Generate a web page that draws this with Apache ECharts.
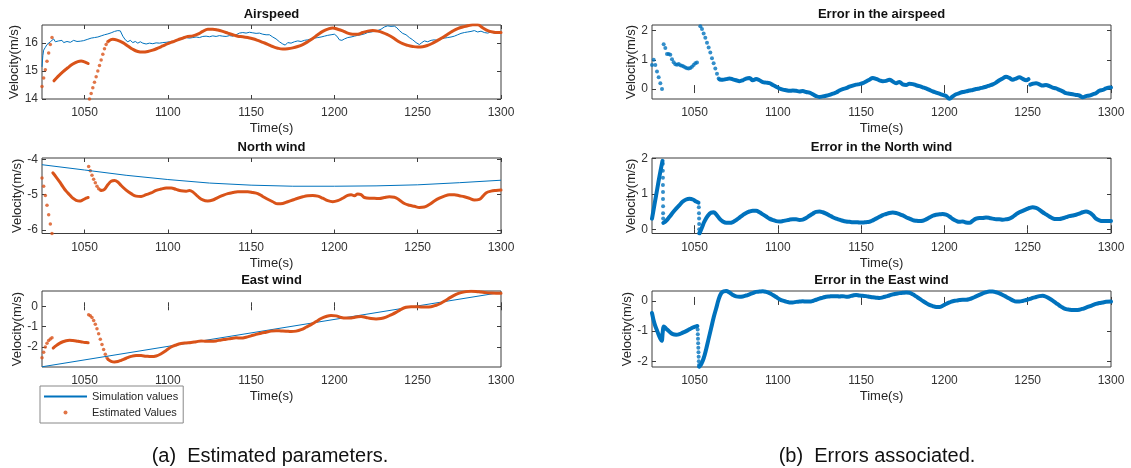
<!DOCTYPE html>
<html>
<head>
<meta charset="utf-8">
<script src="https://cdn.jsdelivr.net/npm/echarts@6/dist/echarts.min.js"></script>
<style>
  html, body { margin: 0; padding: 0; background: #fff; }
  #chart { width: 1131px; height: 468px; }
</style>
</head>
<body>
<div id="chart"></div>
<script>
// tick labels
const timeTicks = [1050, 1100, 1150, 1200, 1250, 1300]
const airTicks = [14, 15, 16]
const northTicks = [-6, -5, -4]
const eastTicks = [-2, -1, 0]
const airErrTicks = [0, 1, 2]
const northErrTicks = [0, 1, 2]
const eastErrTicks = [-2, -1, 0]

// Airspeed: simulation values and estimated values
const airSim = [[1024.5,15.15],[1025,15.55],[1025.5,15.75],[1026.5,15.85],[1027.5,15.95],[1028.5,16.0],[1029.5,16.05],[1030.5,16.12],[1031.5,16.15],[1032.5,16.05],[1033.5,16.0],[1034.5,16.08],[1035.5,16.15],[1036.5,16.1],[1037.5,16.02],[1038.5,16.0],[1039.5,16.06],[1040.5,16.08],[1041.5,16.03],[1042.5,16.05],[1043.5,16.1],[1044.5,16.08],[1045.5,16.06],[1046.5,16.04],[1047.5,16.07],[1048.5,16.1],[1049.5,16.09],[1050.5,16.12],[1052,16.14],[1054,16.18],[1056,16.2],[1058,16.22],[1060,16.26],[1062,16.3],[1064,16.33],[1066,16.37],[1068,16.42],[1070,16.45],[1071.5,16.44],[1073,16.25],[1074.5,16.12],[1076,16.05],[1077.5,16.1],[1079,16.02],[1080.5,16.06],[1082,16.0],[1083.5,16.05],[1085,16.0],[1087,15.97],[1089,16.0],[1091,15.98],[1093,16.01],[1095,16.0],[1097,16.02],[1099,16.03],[1101,16.05],[1103,16.04],[1105,16.08],[1107,16.12],[1109,16.15],[1111,16.2],[1113,16.18],[1115,16.2],[1117,16.22],[1119,16.2],[1121,16.24],[1123,16.25],[1125,16.23],[1127,16.26],[1129,16.24],[1131,16.27],[1133,16.25],[1135,16.24],[1137,16.27],[1139,16.25],[1141,16.3],[1143,16.36],[1145,16.38],[1147,16.36],[1149,16.39],[1151,16.37],[1153,16.35],[1155,16.36],[1157,16.32],[1159,16.3],[1161,16.3],[1163,16.22],[1165,16.15],[1167,16.05],[1169,15.97],[1170.5,15.93],[1172,16.02],[1174,16.0],[1176,16.05],[1178,16.08],[1180,16.06],[1182,16.1],[1184,16.12],[1186,16.15],[1188,16.18],[1190,16.2],[1192,16.22],[1194,16.25],[1196,16.28],[1198,16.3],[1200,16.32],[1201.5,16.25],[1203,16.12],[1204.5,16.1],[1206,16.15],[1208,16.2],[1210,16.22],[1212,16.25],[1214,16.28],[1216,16.3],[1218,16.33],[1220,16.38],[1222,16.4],[1224,16.42],[1226,16.45],[1228,16.5],[1230,16.58],[1232,16.62],[1234,16.6],[1236,16.61],[1237.5,16.55],[1239,16.45],[1241,16.35],[1243,16.3],[1245,16.2],[1247,16.12],[1249,16.02],[1251,15.95],[1252.5,16.02],[1254,16.08],[1256,16.05],[1258,16.1],[1260,16.12],[1262,16.1],[1264,16.15],[1266,16.18],[1268,16.2],[1270,16.22],[1272,16.25],[1274,16.3],[1276,16.35],[1278,16.38],[1280,16.4],[1282,16.42],[1284,16.45],[1286,16.4],[1288,16.43],[1290,16.38],[1292,16.36],[1294,16.4],[1296,16.36],[1298,16.35],[1300,16.36]]
const airEstDots = [[1024.5,14.45],[1025.5,14.75],[1026.5,15.05],[1027.5,15.35],[1028.5,15.65],[1029.5,15.95],[1030.5,16.2],
  [1053,14.0],[1054,14.2],[1055,14.4],[1056,14.6],[1057,14.8],[1058,15.0],[1059,15.2],[1060,15.4],[1061,15.6],[1062,15.8],[1063,15.95],[1064,16.05]]
const airEstSeg1 = [[1031.7,14.65],[1034,14.8],[1037,14.97],[1040,15.12],[1043,15.25],[1046,15.34],[1048,15.36],[1050,15.33],[1052.2,15.27]]
const airEstSeg2 = [[1064.5,16.08],[1067,16.14],[1070,16.1],[1073,16.02],[1076,15.9],[1079,15.78],[1082,15.7],[1085,15.68],[1088,15.7],[1091,15.75],[1094,15.82],[1097,15.9],[1100,15.98],[1103,16.05],[1106,16.12],[1109,16.18],[1112,16.24],[1115,16.26],[1118,16.32],[1121,16.42],[1124,16.5],[1127,16.5],[1130,16.47],[1133,16.42],[1136,16.36],[1139,16.3],[1142,16.25],[1145,16.23],[1148,16.2],[1151,16.16],[1154,16.1],[1157,16.03],[1160,15.96],[1163,15.88],[1166,15.82],[1169,15.79],[1172,15.8],[1175,15.83],[1178,15.88],[1181,15.95],[1184,16.05],[1187,16.17],[1190,16.3],[1193,16.42],[1196,16.5],[1199,16.54],[1202,16.5],[1205,16.44],[1208,16.36],[1211,16.32],[1214,16.32],[1217,16.38],[1220,16.43],[1223,16.45],[1226,16.43],[1229,16.38],[1232,16.3],[1235,16.2],[1238,16.08],[1241,15.98],[1244,15.92],[1247,15.88],[1250,15.86],[1253,15.87],[1256,15.92],[1259,16.0],[1262,16.1],[1265,16.2],[1268,16.32],[1271,16.43],[1274,16.52],[1277,16.58],[1280,16.62],[1283,16.66],[1286,16.66],[1289,16.55],[1292,16.45],[1295,16.4],[1298,16.38],[1300,16.38]]

// North wind
const northSim = [[1024.5,-4.15],[1050,-4.3],[1075,-4.45],[1100,-4.57],[1125,-4.67],[1150,-4.73],[1175,-4.76],[1200,-4.76],[1225,-4.75],[1250,-4.72],[1275,-4.66],[1300,-4.59]]
const northEstDots = [[1024.5,-4.53],[1025.5,-4.76],[1026.5,-5.02],[1027.5,-5.3],[1028.5,-5.57],[1029.5,-5.83],[1030.5,-6.1],
  [1052.5,-4.2],[1053.5,-4.32],[1054.5,-4.45],[1055.5,-4.56],[1056.5,-4.66],[1057.5,-4.76],[1058.5,-4.83],[1059.5,-4.87]]
const northEstSeg1 = [[1031,-4.38],[1033,-4.5],[1035,-4.63],[1037,-4.77],[1039,-4.9],[1041,-5.0],[1043,-5.1],[1045,-5.16],[1047,-5.18],[1049,-5.15],[1051,-5.1],[1052.2,-5.08]]
const northEstSeg2 = [[1060,-4.88],[1062,-4.85],[1064,-4.72],[1066,-4.62],[1068,-4.6],[1070,-4.64],[1072,-4.74],[1075,-4.87],[1078,-4.97],[1081,-5.04],[1084,-5.05],[1087,-5.0],[1090,-4.95],[1093,-4.88],[1096,-4.84],[1099,-4.81],[1102,-4.81],[1105,-4.85],[1108,-4.89],[1111,-4.9],[1113,-4.88],[1115,-4.92],[1118,-5.05],[1121,-5.15],[1124,-5.18],[1127,-5.15],[1130,-5.08],[1133,-5.02],[1136,-4.97],[1139,-4.94],[1142,-4.92],[1145,-4.92],[1148,-4.92],[1151,-4.94],[1154,-4.97],[1157,-5.05],[1160,-5.13],[1163,-5.2],[1166,-5.26],[1169,-5.25],[1172,-5.2],[1175,-5.15],[1178,-5.1],[1181,-5.06],[1184,-5.03],[1187,-5.02],[1190,-5.04],[1193,-5.1],[1196,-5.17],[1199,-5.2],[1202,-5.17],[1205,-5.1],[1208,-5.02],[1210,-5.0],[1212,-5.03],[1214,-4.98],[1216,-5.0],[1218,-5.08],[1221,-5.1],[1224,-5.1],[1227,-5.11],[1230,-5.08],[1233,-5.06],[1236,-5.07],[1239,-5.15],[1242,-5.25],[1245,-5.3],[1248,-5.33],[1251,-5.36],[1254,-5.35],[1257,-5.28],[1260,-5.18],[1263,-5.1],[1266,-5.04],[1269,-5.0],[1272,-5.0],[1275,-5.03],[1278,-5.06],[1281,-5.1],[1284,-5.15],[1287,-5.13],[1289,-5.05],[1291,-4.95],[1294,-4.9],[1297,-4.88],[1300,-4.87]]

// East wind
const eastSim = [[1024.5,-2.97],[1300,0.68]]
const eastEstDots = [[1024.5,-2.52],[1025.5,-2.25],[1026.5,-2.0],[1027.5,-1.82],[1028.5,-1.68],[1029.5,-1.6],[1030.5,-1.54],
  [1052.5,-0.42],[1053.5,-0.46],[1054.5,-0.55],[1055.5,-0.7],[1056.5,-0.88],[1057.5,-1.1],[1058.5,-1.35],[1059.5,-1.62],[1060.5,-1.88],[1061.5,-2.12],[1062.5,-2.35],[1063.5,-2.52]]
const eastEstSeg1 = [[1031.2,-2.05],[1033,-1.93],[1035,-1.82],[1037,-1.74],[1039,-1.69],[1041,-1.67],[1043,-1.68],[1045,-1.7],[1047,-1.73],[1049,-1.76],[1051,-1.78],[1052.2,-1.79]]
const eastEstSeg2 = [[1064,-2.6],[1066,-2.7],[1068,-2.73],[1070,-2.71],[1072,-2.65],[1075,-2.55],[1078,-2.46],[1081,-2.41],[1084,-2.42],[1087,-2.45],[1090,-2.47],[1093,-2.44],[1096,-2.33],[1099,-2.17],[1102,-2.0],[1105,-1.9],[1108,-1.83],[1111,-1.8],[1114,-1.78],[1117,-1.74],[1120,-1.7],[1123,-1.72],[1126,-1.72],[1129,-1.7],[1132,-1.65],[1135,-1.62],[1138,-1.58],[1141,-1.55],[1144,-1.56],[1147,-1.52],[1150,-1.45],[1153,-1.38],[1156,-1.32],[1159,-1.27],[1162,-1.22],[1165,-1.2],[1168,-1.21],[1171,-1.22],[1174,-1.24],[1177,-1.22],[1180,-1.15],[1183,-1.03],[1186,-0.9],[1189,-0.75],[1192,-0.6],[1195,-0.5],[1198,-0.45],[1201,-0.47],[1204,-0.55],[1207,-0.58],[1210,-0.57],[1213,-0.53],[1216,-0.5],[1219,-0.55],[1222,-0.6],[1225,-0.62],[1228,-0.6],[1231,-0.53],[1234,-0.42],[1237,-0.3],[1240,-0.15],[1243,-0.05],[1246,-0.02],[1249,-0.02],[1252,-0.03],[1255,-0.03],[1258,-0.02],[1261,0.05],[1264,0.15],[1267,0.3],[1270,0.45],[1273,0.58],[1276,0.67],[1279,0.72],[1282,0.74],[1285,0.73],[1288,0.7],[1291,0.67],[1294,0.65],[1297,0.64],[1300,0.64]]

// Error in the airspeed
const airErrDots = [[1024.5,0.82],[1025.5,1.0],[1026.5,0.82],[1027.5,0.6],[1028.5,0.4],[1029.5,0.2],[1030.5,0.0],
  [1031.5,1.53],[1032.5,1.4],[1033.5,1.2],[1034.5,1.2],[1035.5,1.17],[1036.5,1.02],[1037.5,0.92],[1038.5,0.85],[1039.5,0.83],[1040.5,0.86],[1041.5,0.81],[1042.5,0.8],[1043.5,0.77],[1044.5,0.74],[1045.5,0.71],[1046.5,0.7],[1047.5,0.72],[1048.5,0.76],[1049.5,0.82],[1050.5,0.88],[1051.5,0.91],
  [1052.5,2.22],[1053.5,2.15],[1054.5,2.05],[1055.5,1.9],[1056.5,1.75],[1057.5,1.58],[1058.5,1.42],[1059.5,1.25],[1060.5,1.05],[1061.5,0.88],[1062.5,0.7],[1063.5,0.52],[1064.5,0.36]]
const airErrSeg1 = [[1065,0.33],[1067,0.32],[1069,0.34],[1071,0.36],[1073,0.33],[1075,0.3],[1077,0.27],[1079,0.3],[1081,0.36],[1083,0.38],[1085,0.3],[1087,0.34],[1089,0.3],[1091,0.24],[1093,0.22],[1095,0.2],[1097,0.14],[1099,0.08],[1101,0.02],[1103,-0.02],[1105,-0.04],[1107,-0.06],[1109,-0.05],[1111,-0.06],[1113,-0.08],[1115,-0.07],[1117,-0.1],[1119,-0.12],[1121,-0.18],[1123,-0.24],[1125,-0.27],[1127,-0.25],[1129,-0.23],[1131,-0.2],[1133,-0.16],[1135,-0.12],[1137,-0.05],[1139,0.0],[1141,0.03],[1143,0.08],[1145,0.12],[1147,0.15],[1149,0.17],[1151,0.2],[1153,0.26],[1155,0.32],[1157,0.38],[1159,0.35],[1161,0.3],[1163,0.27],[1165,0.28],[1167,0.32],[1169,0.26],[1171,0.2],[1173,0.24],[1175,0.16],[1177,0.14],[1179,0.18],[1181,0.17],[1183,0.13],[1185,0.1],[1187,0.06],[1189,0.02],[1191,-0.03],[1193,-0.08],[1195,-0.12],[1197,-0.16],[1199,-0.2],[1201,-0.24],[1203,-0.33],[1205,-0.25],[1207,-0.18],[1209,-0.14],[1211,-0.1],[1213,-0.08],[1215,-0.05],[1217,-0.03],[1219,0.0],[1221,0.02],[1223,0.05],[1225,0.08],[1227,0.12],[1229,0.16],[1231,0.22],[1233,0.3],[1235,0.36],[1237,0.42],[1239,0.38],[1241,0.32],[1243,0.36],[1245,0.4],[1247,0.35],[1249,0.3],[1250.5,0.34]]
const airErrSeg2 = [[1251.5,0.15],[1253,0.18],[1255,0.2],[1257,0.16],[1259,0.12],[1261,0.14],[1263,0.1],[1265,0.05],[1267,0.02],[1269,-0.03],[1271,-0.08],[1273,-0.14],[1275,-0.16],[1277,-0.18],[1279,-0.2],[1281,-0.22],[1283,-0.28],[1285,-0.24],[1287,-0.22],[1289,-0.18],[1291,-0.14],[1293,-0.06],[1295,-0.03],[1297,0.02],[1299,0.05],[1300,0.05]]

// Error in the North wind
const northErrDots = [[1031,1.85],[1031,1.65],[1031.05,1.45],[1031.05,1.25],[1031.1,1.05],[1031.1,0.85],[1031.15,0.65],[1031.15,0.45],[1031.2,0.3],
  [1052.6,0.62],[1052.7,0.45],[1052.75,0.3],[1052.8,0.15],[1052.85,0.0],[1052.9,-0.1]]
const northErrSeg0 = [[1024.5,0.3],[1026,0.7],[1027.5,1.1],[1029,1.5],[1030.8,1.93]]
const northErrSeg1 = [[1031.3,0.18],[1033,0.24],[1035,0.35],[1037,0.47],[1039,0.58],[1041,0.68],[1043,0.78],[1045,0.84],[1047,0.86],[1049,0.84],[1051,0.78],[1052.4,0.75]]
const northErrSeg2 = [[1053,-0.12],[1054.5,0.05],[1056,0.22],[1058,0.38],[1060,0.47],[1061.5,0.48],[1063,0.42],[1065,0.3],[1067,0.22],[1069,0.18],[1071,0.18],[1073,0.2],[1075,0.26],[1077,0.33],[1079,0.4],[1081,0.46],[1083,0.5],[1085,0.52],[1087,0.52],[1089,0.48],[1091,0.42],[1093,0.36],[1095,0.3],[1097,0.26],[1099,0.23],[1101,0.22],[1103,0.23],[1105,0.25],[1107,0.27],[1109,0.28],[1111,0.28],[1113,0.26],[1115,0.27],[1117,0.32],[1119,0.38],[1121,0.44],[1123,0.49],[1125,0.5],[1127,0.48],[1129,0.44],[1131,0.39],[1133,0.34],[1135,0.3],[1137,0.27],[1139,0.24],[1141,0.22],[1143,0.21],[1145,0.2],[1147,0.2],[1149,0.19],[1151,0.19],[1153,0.2],[1155,0.21],[1157,0.25],[1159,0.3],[1161,0.35],[1163,0.4],[1165,0.43],[1167,0.46],[1169,0.47],[1171,0.46],[1173,0.43],[1175,0.39],[1177,0.34],[1179,0.3],[1181,0.26],[1183,0.24],[1185,0.23],[1187,0.24],[1189,0.28],[1191,0.33],[1193,0.38],[1195,0.41],[1197,0.42],[1199,0.43],[1201,0.41],[1203,0.36],[1205,0.29],[1207,0.24],[1209,0.21],[1211,0.22],[1213,0.19],[1215,0.18],[1217,0.24],[1219,0.3],[1221,0.32],[1223,0.32],[1225,0.33],[1227,0.32],[1229,0.3],[1231,0.28],[1233,0.28],[1235,0.27],[1237,0.28],[1239,0.3],[1241,0.35],[1243,0.42],[1245,0.48],[1247,0.52],[1249,0.56],[1251,0.6],[1253,0.62],[1255,0.6],[1257,0.55],[1259,0.48],[1261,0.42],[1263,0.36],[1265,0.31],[1267,0.29],[1269,0.29],[1271,0.31],[1273,0.34],[1275,0.37],[1277,0.39],[1279,0.41],[1281,0.44],[1283,0.48],[1285,0.5],[1287,0.47],[1289,0.4],[1291,0.3],[1293,0.25],[1295,0.23],[1297,0.23],[1300,0.23]]

// Error in the East wind
const eastErrDots = [[1051.9,-0.95],[1052,-1.1],[1052.1,-1.25],[1052.2,-1.4],[1052.3,-1.55],[1052.4,-1.7],[1052.5,-1.85],[1052.6,-2.0],[1052.7,-2.12]]
const eastErrSeg0 = [[1024.5,-0.4],[1026,-0.75],[1028,-1.05],[1029.5,-1.25],[1030.3,-1.32],[1031,-1.0],[1031.6,-0.85],[1033,-0.92],[1035,-1.02],[1037,-1.1],[1039,-1.12],[1041,-1.1],[1043,-1.05],[1045,-1.0],[1047,-0.94],[1049,-0.88],[1051,-0.84],[1051.7,-0.83]]
const eastErrSeg1 = [[1052.8,-2.18],[1054,-2.1],[1055.5,-1.9],[1057,-1.6],[1058.5,-1.25],[1060,-0.9],[1061.5,-0.55],[1063,-0.25],[1064.5,0.05],[1066,0.25],[1067.5,0.32],[1069,0.33],[1071,0.28],[1073,0.2],[1075,0.15],[1077,0.14],[1079,0.15],[1081,0.18],[1083,0.22],[1085,0.26],[1087,0.3],[1089,0.31],[1091,0.32],[1093,0.3],[1095,0.26],[1097,0.2],[1099,0.13],[1101,0.06],[1103,0.01],[1105,-0.02],[1107,-0.05],[1109,-0.05],[1111,-0.03],[1113,-0.02],[1115,-0.01],[1117,-0.02],[1119,-0.02],[1121,0.0],[1123,0.04],[1125,0.08],[1127,0.11],[1129,0.14],[1131,0.15],[1133,0.16],[1135,0.16],[1137,0.15],[1139,0.16],[1141,0.14],[1143,0.15],[1145,0.18],[1147,0.2],[1149,0.18],[1151,0.17],[1153,0.16],[1155,0.14],[1157,0.12],[1159,0.11],[1161,0.1],[1163,0.12],[1165,0.15],[1167,0.18],[1169,0.22],[1171,0.24],[1173,0.26],[1175,0.27],[1177,0.28],[1179,0.27],[1181,0.22],[1183,0.15],[1185,0.08],[1187,0.0],[1189,-0.07],[1191,-0.13],[1193,-0.17],[1195,-0.2],[1197,-0.2],[1199,-0.16],[1201,-0.1],[1203,-0.05],[1205,-0.01],[1207,0.01],[1209,0.03],[1211,0.04],[1213,0.04],[1215,0.06],[1217,0.1],[1219,0.15],[1221,0.2],[1223,0.25],[1225,0.29],[1227,0.31],[1229,0.31],[1231,0.29],[1233,0.25],[1235,0.2],[1237,0.14],[1239,0.08],[1241,0.02],[1243,-0.02],[1245,-0.02],[1247,0.0],[1249,0.03],[1251,0.06],[1253,0.1],[1255,0.13],[1257,0.16],[1259,0.17],[1261,0.14],[1263,0.08],[1265,0.01],[1267,-0.07],[1269,-0.15],[1271,-0.22],[1273,-0.27],[1275,-0.29],[1277,-0.3],[1279,-0.3],[1281,-0.29],[1283,-0.26],[1285,-0.22],[1287,-0.18],[1289,-0.14],[1291,-0.1],[1293,-0.07],[1295,-0.05],[1297,-0.03],[1300,-0.02]]

const BLUE = '#0072BD'
const ORANGE = '#D95319'
const AXIS = '#3c3c3c'
const TEXT = '#262626'
const FONT = '"Liberation Sans", Arial, Helvetica, sans-serif'

// panel layout (estimated panels on the left, errors on the right)
const panels = [
  { title: 'Airspeed', left: 42, top: 25, height: 74, yMin: 14, yMax: 16.65, yTicks: airTicks, nameGap: 17,
    sim: airSim, dots: airEstDots, segs: [airEstSeg1, airEstSeg2] },
  { title: 'North wind', left: 42, top: 158, height: 75.5, yMin: -6.1, yMax: -3.96, yTicks: northTicks, nameGap: 17,
    sim: northSim, dots: northEstDots, segs: [northEstSeg1, northEstSeg2] },
  { title: 'East wind', left: 42, top: 291, height: 76, yMin: -2.98, yMax: 0.75, yTicks: eastTicks, nameGap: 17,
    sim: eastSim, dots: eastEstDots, segs: [eastEstSeg1, eastEstSeg2] },
  { title: 'Error in the airspeed', left: 652, top: 25, height: 74, yMin: -0.34, yMax: 2.19, yTicks: airErrTicks, nameGap: 11,
    dots: airErrDots, segs: [airErrSeg1, airErrSeg2] },
  { title: 'Error in the North wind', left: 652, top: 158, height: 75.5, yMin: -0.12, yMax: 2.01, yTicks: northErrTicks, nameGap: 11,
    dots: northErrDots, segs: [northErrSeg0, northErrSeg1, northErrSeg2] },
  { title: 'Error in the East wind', left: 652, top: 291, height: 76, yMin: -2.19, yMax: 0.33, yTicks: eastErrTicks, nameGap: 16,
    dots: eastErrDots, segs: [eastErrSeg0, eastErrSeg1] }
]

const grid = []
const xAxis = []
const yAxis = []
const series = []
const title = []
const plain = v => String(v)

panels.forEach((p, i) => {
  const isErr = !p.sim
  grid.push({ left: p.left, top: p.top, width: 459, height: p.height, show: true, borderColor: AXIS, borderWidth: 1 })
  title.push({
    text: p.title, left: p.left + 229.5, top: p.top - 17, textAlign: 'center', padding: 0,
    textStyle: { fontSize: 13, fontWeight: 'bold', color: '#111', fontFamily: FONT }
  })
  const tick = { inside: true, length: 4, lineStyle: { color: AXIS } }
  xAxis.push({
    gridIndex: i, type: 'value', position: 'bottom', min: 1024.5, max: 1300,
    axisLine: { show: false }, splitLine: { show: false },
    axisTick: Object.assign({ customValues: timeTicks }, tick),
    axisLabel: { customValues: timeTicks, formatter: plain, fontSize: 12, color: '#333', margin: 8, fontFamily: FONT },
    name: 'Time(s)', nameLocation: 'middle', nameGap: 23,
    nameTextStyle: { fontSize: 13, color: TEXT, fontFamily: FONT }
  })
  xAxis.push({
    gridIndex: i, type: 'value', position: 'top', min: 1024.5, max: 1300,
    axisLine: { show: false }, splitLine: { show: false },
    axisTick: Object.assign({ customValues: timeTicks }, tick), axisLabel: { show: false }
  })
  yAxis.push({
    gridIndex: i, type: 'value', position: 'left', min: p.yMin, max: p.yMax,
    axisLine: { show: false }, splitLine: { show: false },
    axisTick: Object.assign({ customValues: p.yTicks }, tick),
    axisLabel: { customValues: p.yTicks, formatter: plain, fontSize: 12, color: '#333', margin: 4, fontFamily: FONT },
    name: 'Velocity(m/s)', nameLocation: 'middle', nameGap: p.nameGap,
    nameTextStyle: { fontSize: 13, color: TEXT, fontFamily: FONT }
  })
  yAxis.push({
    gridIndex: i, type: 'value', position: 'right', min: p.yMin, max: p.yMax,
    axisLine: { show: false }, splitLine: { show: false },
    axisTick: Object.assign({ customValues: p.yTicks }, tick), axisLabel: { show: false }
  })
  const ax = { xAxisIndex: 2 * i, yAxisIndex: 2 * i }
  const color = isErr ? BLUE : ORANGE
  if (!isErr) {
    series.push(Object.assign({
      name: 'Simulation values', type: 'line', data: p.sim, symbol: 'none',
      lineStyle: { color: BLUE, width: 1 }, itemStyle: { color: BLUE }
    }, ax))
  }
  series.push(Object.assign({
    name: isErr ? 'Error' : 'Estimated Values', type: 'scatter', data: p.dots,
    symbolSize: isErr ? 4 : 3.5, itemStyle: { color: color }
  }, ax))
  p.segs.forEach(seg => {
    series.push(Object.assign({
      name: isErr ? 'Error' : 'Estimated Values', type: 'line', data: seg, symbol: 'none', smooth: 0.4,
      lineStyle: { color: color, width: isErr ? 4 : 3, cap: 'round', join: 'round' }, itemStyle: { color: color }
    }, ax))
  })
})

title.push({
  text: '(a)  Estimated parameters.', left: 270, top: 446, textAlign: 'center', padding: 0,
  textStyle: { fontSize: 20, fontWeight: 'normal', color: '#111', fontFamily: FONT }
})
title.push({
  text: '(b)  Errors associated.', left: 877, top: 446, textAlign: 'center', padding: 0,
  textStyle: { fontSize: 20, fontWeight: 'normal', color: '#111', fontFamily: FONT }
})

const chart = echarts.init(document.getElementById('chart'))
chart.setOption({
  animation: false,
  backgroundColor: '#fff',
  title: title,
  grid: grid,
  xAxis: xAxis,
  yAxis: yAxis,
  legend: {
    data: [
      { name: 'Simulation values', itemStyle: { opacity: 0 } },
      { name: 'Estimated Values', icon: 'circle' }
    ],
    orient: 'vertical', left: 40, top: 386,
    itemWidth: 43, itemHeight: 4, itemGap: 5,
    padding: [5, 5, 5, 3],
    borderColor: '#888', borderWidth: 1, backgroundColor: '#fff',
    selectedMode: false,
    textStyle: { fontSize: 11, color: TEXT, fontFamily: FONT }
  },
  series: series
})
</script>
</body>
</html>
